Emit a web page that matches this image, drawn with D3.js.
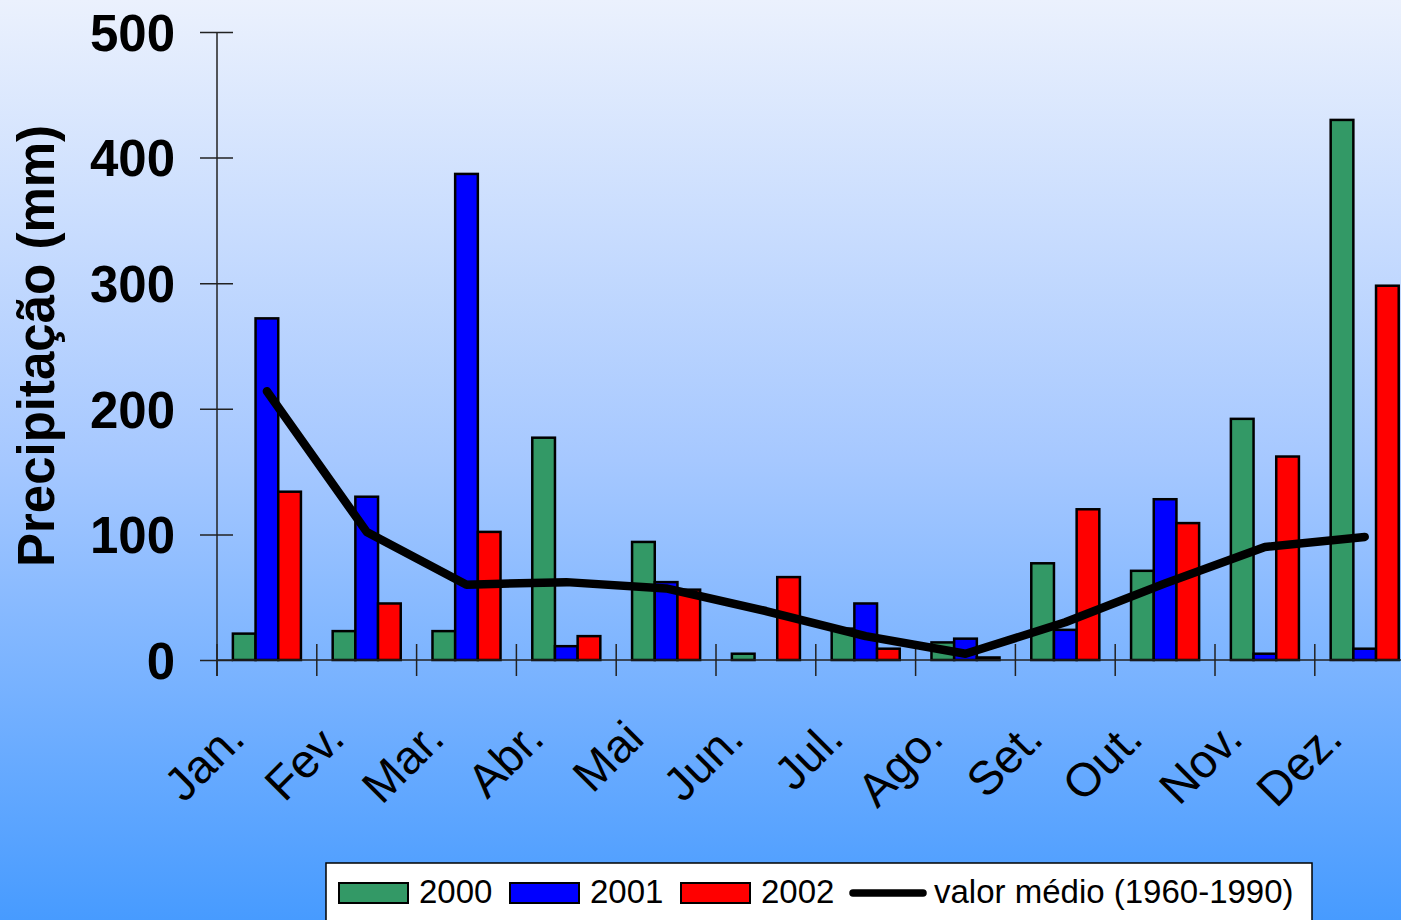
<!DOCTYPE html>
<html>
<head>
<meta charset="utf-8">
<script src="https://cdn.jsdelivr.net/npm/d3@7"></script>
<style>
  html, body { margin: 0; padding: 0; overflow: hidden; }
  svg { display: block; font-family: "Liberation Sans", Arial, sans-serif; }
</style>
</head>
<body>
<svg id="chart" width="1401" height="920"></svg>
<script>
// Monthly precipitation (mm)
const months = ["Jan.", "Fev.", "Mar.", "Abr.", "Mai", "Jun.", "Jul.", "Ago.", "Set.", "Out.", "Nov.", "Dez."];
const series = ["2000", "2001", "2002"];
const s2000 = [21, 23, 23, 177, 94, 5, 25, 14, 77, 71, 192, 430];
const s2001 = [272, 130, 387, 11, 62, 0, 45, 17, 24, 128, 5, 9];
const s2002 = [134, 45, 102, 19, 56, 66, 9, 2, 120, 109, 162, 298];
const meanLabel = "valor médio (1960-1990)";
const mean1960_1990 = [214, 102, 60, 62, 57, 39, 19, 5, 30, 61, 90, 98];
const yTicks = [0, 100, 200, 300, 400, 500];
const colors = ["#339966", "#0000ff", "#ff0000"];

const svg = d3.select("#chart");
const W = 1401, H = 920;

// background gradient
const defs = svg.append("defs");
const grad = defs.append("linearGradient")
  .attr("id", "bg").attr("x1", 0).attr("y1", 0).attr("x2", 0).attr("y2", 1);
grad.append("stop").attr("offset", "0%").attr("stop-color", "#ebf1fd");
grad.append("stop").attr("offset", "50%").attr("stop-color", "#a6c8ff");
grad.append("stop").attr("offset", "100%").attr("stop-color", "#479bff");
svg.append("rect").attr("width", W).attr("height", H).attr("fill", "url(#bg)");

// scales
const plotLeft = 217, step = 99.8;
const x = d3.scaleBand().domain(months).range([plotLeft, plotLeft + step * months.length]).padding(0);
const x1 = d3.scaleBand().domain(series).range([0, x.bandwidth()]).paddingInner(0).paddingOuter(0.7);
const y = d3.scaleLinear().domain([0, 500]).range([660, 32]);

const rows = months.map((m, i) => ({ m, vals: [s2000[i], s2001[i], s2002[i]] }));

// bars
const groups = svg.append("g").selectAll("g").data(rows).join("g")
  .attr("transform", d => `translate(${x(d.m)},0)`);
groups.selectAll("rect")
  .data(d => d.vals.map((v, k) => ({ key: series[k], v, k })))
  .join("rect")
  .attr("x", d => x1(d.key))
  .attr("width", x1.bandwidth())
  .attr("y", d => y(d.v))
  .attr("height", d => y(0) - y(d.v))
  .attr("fill", d => colors[d.k])
  .attr("stroke", "#000")
  .attr("stroke-width", 2.5);

// y axis
const yAxis = svg.append("g")
  .attr("transform", `translate(${plotLeft},0)`)
  .call(d3.axisLeft(y).tickValues(yTicks).tickSize(0).tickPadding(42));
yAxis.select(".domain").remove();
yAxis.append("line")
  .attr("x1", 0).attr("x2", 0).attr("y1", y(500)).attr("y2", y(0) + 16)
  .attr("stroke", "#222").attr("stroke-width", 1.5);
yAxis.selectAll(".tick line")
  .attr("x1", -17).attr("x2", 16).attr("stroke", "#222").attr("stroke-width", 1.5);
yAxis.selectAll(".tick text")
  .attr("fill", "#000")
  .style("font-size", "51px").style("font-weight", "bold")
  .attr("dy", "0.36em");

// x axis baseline and boundary ticks
svg.append("line")
  .attr("x1", plotLeft).attr("x2", W).attr("y1", y(0)).attr("y2", y(0))
  .attr("stroke", "#222").attr("stroke-width", 1.5);
const boundaries = months.map(m => x(m)).concat([x.range()[1]]);
svg.append("g").selectAll("line").data(boundaries).join("line")
  .attr("x1", d => d).attr("x2", d => d)
  .attr("y1", y(0) - 16).attr("y2", y(0) + 16)
  .attr("stroke", "#222").attr("stroke-width", 1.5);

// month labels
const xAxis = svg.append("g")
  .attr("transform", "translate(0,741)")
  .call(d3.axisBottom(x).tickSize(0).tickPadding(0));
xAxis.select(".domain").remove();
xAxis.selectAll(".tick text")
  .attr("fill", "#000")
  .style("font-size", "47px")
  .attr("text-anchor", "end")
  .attr("y", 0).attr("dy", 0)
  .attr("transform", "translate(-20,0) rotate(-45)");

// mean line
const line = d3.line()
  .x((d, i) => x(months[i]) + x.bandwidth() / 2)
  .y(d => y(d));
svg.append("path")
  .datum(mean1960_1990)
  .attr("d", line)
  .attr("fill", "none")
  .attr("stroke", "#000")
  .attr("stroke-width", 8.5)
  .attr("stroke-linecap", "round")
  .attr("stroke-linejoin", "round");

// y axis title
svg.append("text")
  .attr("transform", "translate(54,346) rotate(-90)")
  .attr("text-anchor", "middle")
  .style("font-size", "51px").style("font-weight", "bold")
  .text("Precipitação (mm)");

// legend
const legend = svg.append("g");
legend.append("rect")
  .attr("x", 326).attr("y", 863).attr("width", 986).attr("height", 80)
  .attr("fill", "#fff").attr("stroke", "#000").attr("stroke-width", 1.5);
const swatchX = [339, 510, 681];
series.forEach((s, k) => {
  legend.append("rect")
    .attr("x", swatchX[k]).attr("y", 883).attr("width", 69).attr("height", 20)
    .attr("fill", colors[k]).attr("stroke", "#000").attr("stroke-width", 2);
  legend.append("text")
    .attr("x", swatchX[k] + 80).attr("y", 903)
    .style("font-size", "33px")
    .text(s);
});
legend.append("line")
  .attr("x1", 853).attr("x2", 923).attr("y1", 893).attr("y2", 893)
  .attr("stroke", "#000").attr("stroke-width", 7.5).attr("stroke-linecap", "round");
legend.append("text")
  .attr("x", 934).attr("y", 903)
  .style("font-size", "33px")
  .text(meanLabel);
</script>
</body>
</html>
